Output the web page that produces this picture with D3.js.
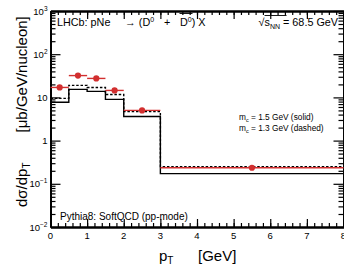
<!DOCTYPE html>
<html>
<head>
<meta charset="utf-8">
<script src="https://cdn.jsdelivr.net/npm/d3@7"></script>
<style>
  body { margin: 0; background: #fff; }
  text { font-family: "Liberation Sans", Arial, sans-serif; fill: #000; }
</style>
</head>
<body>
<div id="chart"></div>
<script>
// -------- data -------- //
var binEdges = [0, 0.5, 1, 1.5, 2, 3, 8];
var dataX = [0.25, 0.75, 1.25, 1.75, 2.5, 5.5];
var dataY = [17, 32, 27.5, 14.5, 5.0, 0.235];
var pythiaSolid = [7.7, 15.3, 13.8, 9.0, 3.6, 0.172];   // m_c = 1.5 GeV
var pythiaDashed = [9.5, 19, 17, 11.7, 4.7, 0.25];     // m_c = 1.3 GeV
var xTicks = [0, 1, 2, 3, 4, 5, 6, 7, 8];
var yTicks = [1e-2, 1e-1, 1, 10, 100, 1000];
var yTickLabels = [["10", "\u22122"], ["10", "\u22121"], ["1", ""], ["10", ""], ["10", "2"], ["10", "3"]];

var width = 344, height = 271;
var x0 = 50.5, x1 = 343.5, yTop = 11, yBot = 227;
var red = "#d22f2f";

var svg = d3.select("#chart").append("svg")
  .attr("width", width).attr("height", height);

var x = d3.scaleLinear().domain([0, 8]).range([x0, x1]);
var y = d3.scaleLog().domain([1e-2, 1e3]).range([yBot, yTop]);

var minorX = d3.range(0, 8.001, 0.2);
var minorY = y.ticks().filter(function(v) { return yTicks.indexOf(v) < 0; });

function styleAxis(g) {
  g.select(".domain").attr("stroke", "#000").attr("stroke-width", 1.8);
  g.selectAll(".tick line").attr("stroke", "#000").attr("stroke-width", 1.2);
  g.selectAll(".tick text").remove();
}

// minor + major ticks on all four sides (ROOT style, pointing inward)
svg.append("g").attr("transform", "translate(0," + yBot + ")")
  .call(d3.axisBottom(x).tickValues(minorX).tickSize(-4).tickSizeOuter(0)).call(styleAxis);
svg.append("g").attr("transform", "translate(0," + yBot + ")")
  .call(d3.axisBottom(x).tickValues(xTicks).tickSize(-8).tickSizeOuter(0)).call(styleAxis);
svg.append("g").attr("transform", "translate(0," + yTop + ")")
  .call(d3.axisTop(x).tickValues(minorX).tickSize(-4).tickSizeOuter(0)).call(styleAxis);
svg.append("g").attr("transform", "translate(0," + yTop + ")")
  .call(d3.axisTop(x).tickValues(xTicks).tickSize(-8).tickSizeOuter(0)).call(styleAxis);
svg.append("g").attr("transform", "translate(" + x0 + ",0)")
  .call(d3.axisLeft(y).tickValues(minorY).tickSize(-5).tickSizeOuter(0)).call(styleAxis);
svg.append("g").attr("transform", "translate(" + x0 + ",0)")
  .call(d3.axisLeft(y).tickValues(yTicks).tickSize(-10).tickSizeOuter(0)).call(styleAxis);
svg.append("g").attr("transform", "translate(" + x1 + ",0)")
  .call(d3.axisRight(y).tickValues(minorY).tickSize(-5).tickSizeOuter(0)).call(styleAxis);
svg.append("g").attr("transform", "translate(" + x1 + ",0)")
  .call(d3.axisRight(y).tickValues(yTicks).tickSize(-10).tickSizeOuter(0)).call(styleAxis);

// tick labels
svg.append("g").selectAll("text").data(xTicks).join("text")
  .attr("x", function(d) { return x(d); })
  .attr("y", 239)
  .attr("text-anchor", "middle")
  .attr("font-size", 9.5)
  .text(function(d) { return d; });

var yl = svg.append("g").selectAll("text").data(yTicks).join("text")
  .attr("x", 47.5)
  .attr("y", function(d) { return y(d) + 3.5; })
  .attr("text-anchor", "end")
  .attr("font-size", 9.5);
yl.append("tspan").text(function(d, i) { return yTickLabels[i][0]; });
yl.append("tspan").attr("dy", -4).attr("font-size", 6.5)
  .text(function(d, i) { return yTickLabels[i][1]; });

// histograms
function stepLine(vals) {
  var pts = [];
  vals.forEach(function(v, i) {
    pts.push([binEdges[i], v]);
    pts.push([binEdges[i + 1], v]);
  });
  return d3.line().x(function(d) { return x(d[0]); }).y(function(d) { return y(d[1]); })(pts);
}

svg.append("path").attr("d", stepLine(pythiaSolid))
  .attr("fill", "none").attr("stroke", "#000").attr("stroke-width", 1.4);
svg.append("path").attr("d", stepLine(pythiaDashed))
  .attr("fill", "none").attr("stroke", "#000").attr("stroke-width", 1.4)
  .attr("stroke-dasharray", "2.5,1.8");

// data points with x error bars
var pts = svg.append("g");
pts.selectAll("line").data(dataY).join("line")
  .attr("x1", function(d, i) { return x(binEdges[i]); })
  .attr("x2", function(d, i) { return x(binEdges[i + 1]); })
  .attr("y1", function(d) { return y(d); })
  .attr("y2", function(d) { return y(d); })
  .attr("stroke", red).attr("stroke-width", 1.4);
pts.selectAll("circle").data(dataY).join("circle")
  .attr("cx", function(d, i) { return x(dataX[i]); })
  .attr("cy", function(d) { return y(d); })
  .attr("r", 3.1)
  .attr("fill", red);

// texts
svg.append("text").attr("x", 57).attr("y", 26).attr("font-size", 10.8).text("LHCb: pNe");
var proc = svg.append("text").attr("x", 125).attr("y", 26).attr("font-size", 10.8);
proc.append("tspan").text("\u2192 (D");
proc.append("tspan").attr("dy", -4.5).attr("font-size", 7).text("0");
proc.append("tspan").attr("x", 164).attr("dy", 4.5).text("+");
proc.append("tspan").attr("x", 180).text("D");
proc.append("tspan").attr("dy", -4.5).attr("font-size", 7).text("0");
proc.append("tspan").attr("dy", 4.5).text(") X");
svg.append("line").attr("x1", 179.5).attr("x2", 192.5)
  .attr("y1", 13.5).attr("y2", 13.5).attr("stroke", "#000").attr("stroke-width", 0.9);

var sq = svg.append("text").attr("x", 338).attr("y", 26).attr("font-size", 10.8)
  .attr("text-anchor", "end");
sq.append("tspan").text("\u221A");
sq.append("tspan").attr("id", "sarg").text("s");
sq.append("tspan").attr("dy", 2.5).attr("font-size", 7).text("NN");
sq.append("tspan").attr("dy", -2.5).text(" = 68.5 GeV");
var sb = d3.select("#sarg").node().getBBox();
svg.append("line").attr("x1", sb.x).attr("x2", sb.x + 22)
  .attr("y1", 15.5).attr("y2", 15.5).attr("stroke", "#000").attr("stroke-width", 0.9);

[["1.5", "solid", 120], ["1.3", "dashed", 131]].forEach(function(l) {
  var t = svg.append("text").attr("x", 239).attr("y", l[2]).attr("font-size", 8.3);
  t.append("tspan").text("m");
  t.append("tspan").attr("dy", 1.8).attr("font-size", 5.5).text("c");
  t.append("tspan").attr("dy", -1.8).text(" = " + l[0] + " GeV (" + l[1] + ")");
});

svg.append("text").attr("x", 60).attr("y", 220).attr("font-size", 10)
  .text("Pythia8: SoftQCD (pp-mode)");

// axis titles
var xt = svg.append("text").attr("x", 159).attr("y", 261).attr("font-size", 15);
xt.append("tspan").text("p");
xt.append("tspan").attr("dy", 3).attr("font-size", 10).text("T");
xt.append("tspan").attr("x", 198).attr("dy", -3).text("[GeV]");

var yt = svg.append("text").attr("transform", "translate(27,207) rotate(-90)")
  .attr("font-size", 15);
yt.append("tspan").text("d\u03C3/dp");
yt.append("tspan").attr("dy", 3).attr("font-size", 10).text("T");
yt.append("tspan").attr("dy", -3).attr("dx", 30).text("[\u03BCb/GeV/nucleon]");
</script>
</body>
</html>
